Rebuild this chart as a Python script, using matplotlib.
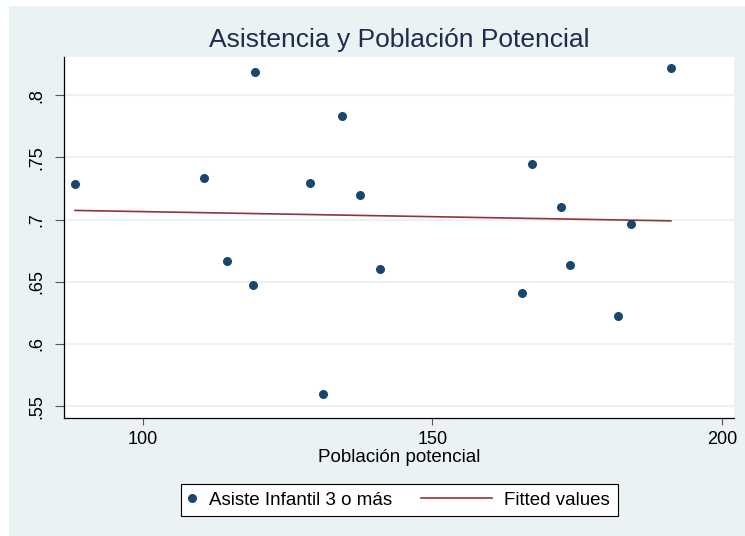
import numpy as np
import matplotlib
matplotlib.use("Agg")
import matplotlib.pyplot as plt
from matplotlib.patches import Rectangle
from matplotlib.lines import Line2D
from matplotlib.legend_handler import HandlerBase

plt.rcParams['font.family'] = ['Liberation Sans', 'DejaVu Sans']

title = "Asistencia y Población Potencial"
xlabel = "Población potencial"
series_name = "Asiste Infantil 3 o más"
fit_name = "Fitted values"

poblacion = [88.3, 110.6, 114.5, 119.3, 119.1, 128.8, 134.4, 131.2, 137.5, 141.0,
             165.5, 167.3, 172.3, 173.7, 182.0, 184.3, 191.2]
asiste = [0.7283, 0.7337, 0.6663, 0.8184, 0.6477, 0.7296, 0.7830, 0.5595, 0.7194, 0.6604,
          0.6413, 0.7449, 0.7098, 0.6636, 0.6223, 0.6964, 0.8214]

xticks = [100, 150, 200]
yticks = [0.55, 0.6, 0.65, 0.7, 0.75, 0.8]
yticklabels = [".55", ".6", ".65", ".7", ".75", ".8"]

W, H = 745, 536
fig = plt.figure(figsize=(W / 100, H / 100), dpi=100)
fig.patch.set_facecolor('white')
bg = Rectangle((9 / W, 0), 1 - 9 / W, 1 - 6 / H, transform=fig.transFigure,
               facecolor='#EAF2F3', edgecolor='none', zorder=-10)
fig.patches.append(bg)

ax = fig.add_axes([64 / W, 1 - 418 / H, (734 - 64) / W, (418 - 57) / H])
ax.set_facecolor('white')

x = np.array(poblacion)
y = np.array(asiste)
b, a = np.polyfit(x, y, 1)
xs = np.array([x.min(), x.max()])

pts, = ax.plot(x, y, 'o', color='#1A476F', markersize=6.5, markeredgewidth=0, zorder=3,
               label=series_name)
fit, = ax.plot(xs, a + b * xs, '-', color='#90353B', linewidth=1.2, zorder=2, label=fit_name)

ax.set_xlim(86.4, 202.1)
ax.set_ylim(0.5405, 0.8306)
ax.set_xticks(xticks)
ax.set_yticks(yticks)
ax.set_yticklabels(yticklabels, rotation=90, va='center')
ax.grid(axis='y', color='#EAF2F3', linewidth=1.5)
ax.set_axisbelow(True)
for s in ['top', 'right']:
    ax.spines[s].set_visible(False)
for s in ['left', 'bottom']:
    ax.spines[s].set_color('black')
    ax.spines[s].set_linewidth(0.9)
ax.tick_params(axis='both', direction='out', length=5, width=0.8, color='#555555',
               labelsize=13, labelcolor='black', pad=4)
ax.tick_params(axis='y', length=6.5, pad=7)

ax.set_xlabel(xlabel, fontsize=13.5, labelpad=1)
fig.text((64 + 734) / 2 / W, 1 - 40 / H, title, ha='center', va='center',
         fontsize=19, color='#1E2C4E')


class LongLineHandler(HandlerBase):
    """Draw the line handle extending to the left of its (short) handle box."""
    def __init__(self, length_pt, **kw):
        super().__init__(**kw)
        self.length_pt = length_pt

    def create_artists(self, legend, orig_handle, xdescent, ydescent, width, height,
                       fontsize, trans):
        yc = height / 2 - ydescent
        x1 = width - xdescent
        ln = Line2D([x1 - self.length_pt, x1], [yc, yc], color=orig_handle.get_color(),
                    linewidth=orig_handle.get_linewidth())
        ln.set_transform(trans)
        return [ln]


leg = fig.legend([pts, fit], [series_name, fit_name], loc='center',
                 bbox_to_anchor=((178 + 620) / 2 / W, 1 - 500 / H),
                 ncol=2, fontsize=13.5, frameon=True, fancybox=False,
                 edgecolor='black', facecolor='white', framealpha=1,
                 handlelength=0.45, columnspacing=4.9, borderpad=0.4,
                 handletextpad=0.65, numpoints=1,
                 handler_map={fit: LongLineHandler(51)})
leg.get_frame().set_linewidth(0.8)

fig.savefig('out.png', dpi=100, facecolor=fig.get_facecolor())
